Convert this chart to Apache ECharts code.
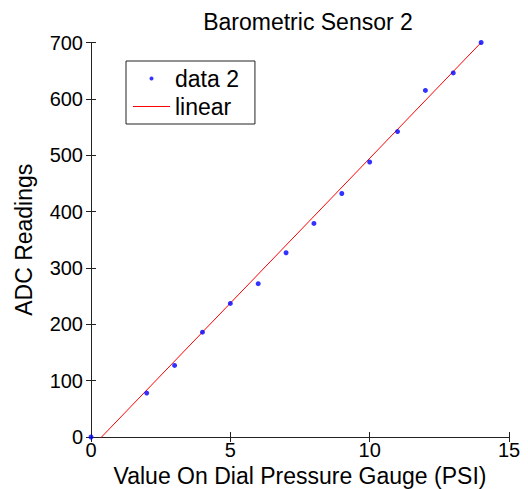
<!DOCTYPE html>
<html>
<head>
<meta charset="utf-8">
<script src="https://cdn.jsdelivr.net/npm/echarts@6/dist/echarts.min.js"></script>
<style>
html,body{margin:0;padding:0;background:#fff;}
#chart{width:528px;height:489px;}
</style>
</head>
<body>
<div id="chart"></div>
<script>
// Data
const pressurePSI = [0, 2, 3, 4, 5, 6, 7, 8, 9, 10, 11, 12, 13, 14];
const adcReadings = [0, 78, 127, 186, 237, 272, 327, 379, 432, 488, 542, 615, 646, 700];
const fitX = [0, 14];
const fitY = [-19.5, 700];
const xAxisRange = [0, 15];
const yAxisRange = [0, 700];
const xStep = 5;
const yStep = 100;

const FONT = 'Liberation Sans';
const scatterData = pressurePSI.map((x, i) => [x, adcReadings[i]]);
const fitData = fitX.map((x, i) => [x, fitY[i]]);

const chart = echarts.init(document.getElementById('chart'), null, {renderer: 'svg'});
const axisLine = {show: true, lineStyle: {color: '#222', width: 1}};
const tick = {show: true, inside: true, length: 5, lineStyle: {color: '#222', width: 1}};

chart.setOption({
  animation: false,
  backgroundColor: '#fff',
  title: {
    text: 'Barometric Sensor 2',
    left: 303, top: 5, textAlign: 'center',
    textStyle: {fontFamily: FONT, fontSize: 23, fontWeight: 'normal', color: '#000'}
  },
  legend: {
    orient: 'vertical',
    left: 126, top: 61,
    padding: [6, 16, 6, 7],
    itemGap: 5,
    itemWidth: 37, itemHeight: 4,
    borderColor: '#222', borderWidth: 1, borderRadius: 0,
    backgroundColor: '#fff',
    textStyle: {fontFamily: FONT, fontSize: 23, color: '#000', lineHeight: 20},
    data: [
      {name: 'data 2', icon: 'circle'},
      {name: 'linear', icon: 'path://M0,0L37,0L37,1L0,1Z'}
    ]
  },
  grid: {left: 91, right: 19, top: 42.5, bottom: 52, containLabel: false, outerBoundsMode: 'none'},
  xAxis: [{
    type: 'value', min: xAxisRange[0], max: xAxisRange[1], interval: xStep,
    position: 'bottom',
    axisLine: axisLine, axisTick: tick, splitLine: {show: false},
    axisLabel: {fontFamily: FONT, fontSize: 20, color: '#000', margin: 3},
    name: 'Value On Dial Pressure Gauge (PSI)',
    nameLocation: 'middle', nameGap: 18,
    nameTextStyle: {fontFamily: FONT, fontSize: 23, color: '#000'}
  }, {
    type: 'value', min: xAxisRange[0], max: xAxisRange[1], interval: xStep,
    position: 'top',
    axisLine: axisLine, axisTick: tick, splitLine: {show: false},
    axisLabel: {show: false}
  }],
  yAxis: [{
    type: 'value', min: yAxisRange[0], max: yAxisRange[1], interval: yStep,
    position: 'left',
    axisLine: axisLine, axisTick: tick, splitLine: {show: false},
    axisLabel: {fontFamily: FONT, fontSize: 20, color: '#000', margin: 8},
    name: 'ADC Readings',
    nameLocation: 'middle', nameGap: 56,
    nameTextStyle: {fontFamily: FONT, fontSize: 23, color: '#000'}
  }, {
    type: 'value', min: yAxisRange[0], max: yAxisRange[1], interval: yStep,
    position: 'right',
    axisLine: axisLine, axisTick: tick, splitLine: {show: false},
    axisLabel: {show: false}
  }],
  series: [{
    name: 'data 2',
    type: 'scatter',
    data: scatterData,
    symbol: 'circle',
    symbolSize: 5,
    itemStyle: {color: '#0000ff'},
    clip: false,
    z: 3
  }, {
    name: 'linear',
    type: 'line',
    data: fitData,
    showSymbol: false,
    symbol: 'none',
    lineStyle: {color: '#ff0000', width: 1},
    itemStyle: {color: '#ff0000'},
    clip: true,
    z: 2
  }]
});
</script>
</body>
</html>
